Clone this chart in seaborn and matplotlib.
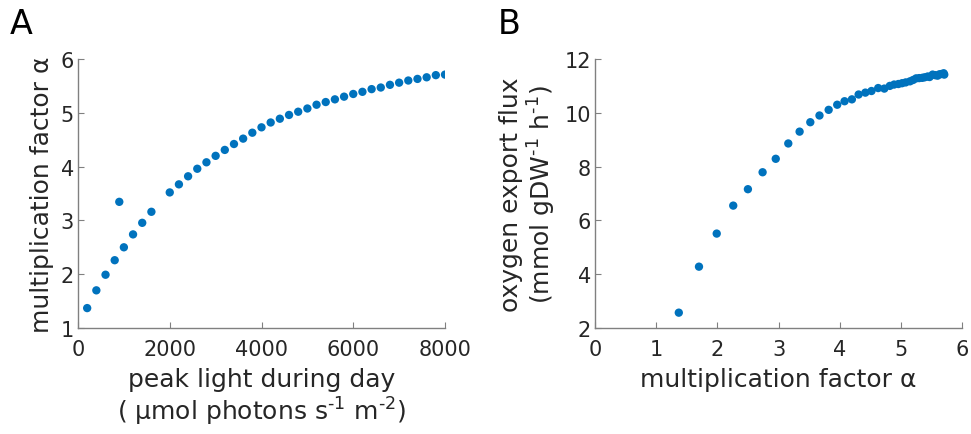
import numpy as np
import pandas as pd
import matplotlib
matplotlib.use("Agg")
import matplotlib.pyplot as plt
import seaborn as sns

# ---- data ----
peak_light = [200, 400, 600, 800, 900, 1000, 1200, 1400, 1600, 2000, 2200, 2400,
              2600, 2800, 3000, 3200, 3400, 3600, 3800, 4000, 4200, 4400, 4600,
              4800, 5000, 5200, 5400, 5600, 5800, 6000, 6200, 6400, 6600, 6800,
              7000, 7200, 7400, 7600, 7800, 8000]
alpha = [1.37, 1.70, 1.99, 2.26, 3.345, 2.50, 2.74, 2.955, 3.16, 3.52, 3.67, 3.82,
         3.96, 4.08, 4.20, 4.31, 4.42, 4.52, 4.63, 4.73, 4.82, 4.89, 4.96,
         5.02, 5.08, 5.15, 5.20, 5.25, 5.30, 5.35, 5.39, 5.44, 5.47, 5.52,
         5.56, 5.60, 5.63, 5.66, 5.70, 5.71]
alpha_b = [1.37, 1.70, 1.99, 2.26, 2.50, 2.74, 2.955, 3.16, 3.345, 3.52, 3.67, 3.82,
           3.96, 4.08, 4.20, 4.31, 4.42, 4.52, 4.63, 4.73, 4.82, 4.89, 4.96,
           5.02, 5.08, 5.15, 5.20, 5.25, 5.30, 5.35, 5.39, 5.44, 5.47, 5.52,
           5.56, 5.60, 5.63, 5.66, 5.70, 5.71]
oxygen_flux = [2.57, 4.28, 5.51, 6.55, 7.16, 7.79, 8.29, 8.86, 9.30, 9.65, 9.90, 10.11,
               10.30, 10.43, 10.50, 10.68, 10.75, 10.81, 10.92, 10.90, 11.00, 11.05, 11.07,
               11.10, 11.13, 11.17, 11.22, 11.28, 11.29, 11.30, 11.32, 11.35, 11.33, 11.42,
               11.40, 11.38, 11.43, 11.44, 11.47, 11.42]
xticks_a = [0, 2000, 4000, 6000, 8000]
yticks_a = [1, 2, 3, 4, 5, 6]
xticks_b = [0, 1, 2, 3, 4, 5, 6]
yticks_b = [2, 4, 6, 8, 10, 12]

df_a = pd.DataFrame({"light": peak_light, "alpha": alpha})
df_b = pd.DataFrame({"alpha": alpha_b, "flux": oxygen_flux})

sns.set_theme(style="white")
plt.rcParams['font.family'] = ['DejaVu Sans']
plt.rcParams['mathtext.default'] = 'regular'

BLUE = "#0072BD"
TXT = "#262626"
SPINE = "#808080"
FS = 15
LFS = 18

fig = plt.figure(figsize=(9.71, 4.35), dpi=100)
W, H = 971, 435
axA = fig.add_axes([78 / W, 1 - 329 / H, 367 / W, 269 / H])
axB = fig.add_axes([595 / W, 1 - 329 / H, 367 / W, 269 / H])

sns.scatterplot(data=df_a, x="light", y="alpha", ax=axA, color=BLUE, s=36,
                edgecolor="none", linewidth=0)
sns.scatterplot(data=df_b, x="alpha", y="flux", ax=axB, color=BLUE, s=36,
                edgecolor="none", linewidth=0)

def style(ax, xt, yt, xlim, ylim):
    ax.set_xlim(*xlim)
    ax.set_ylim(*ylim)
    ax.set_xticks(xt)
    ax.set_yticks(yt)
    for s in ["top", "right"]:
        ax.spines[s].set_visible(False)
    for s in ["left", "bottom"]:
        ax.spines[s].set_color(SPINE)
        ax.spines[s].set_linewidth(1.0)
    ax.tick_params(direction="in", length=4, width=0.8, color=SPINE,
                   labelsize=FS, labelcolor=TXT, bottom=True, left=True)
    ax.tick_params(axis="x", pad=8)
    ax.tick_params(axis="y", pad=3)
    ax.patch.set_alpha(0)

style(axA, xticks_a, yticks_a, (0, 8000), (1, 6))
style(axB, xticks_b, yticks_b, (0, 6), (2, 12))

axA.set_xlabel("peak light during day\n( \u00b5mol photons s$^{\\text{-1}}$ m$^{\\text{-2}}$)",
               fontsize=LFS, color=TXT, labelpad=5.5, linespacing=1.15)
axA.set_ylabel("multiplication factor \u03b1", fontsize=LFS, color=TXT, labelpad=5)
axB.set_xlabel("multiplication factor \u03b1", fontsize=LFS, color=TXT, labelpad=5.5)
axB.set_ylabel("oxygen export flux\n(mmol gDW$^{\\text{-1}}$ h$^{\\text{-1}}$)", fontsize=LFS,
               color=TXT, labelpad=4.5, linespacing=1.1)

fig.text(10 / W, 1 - 24 / H, "A", fontsize=24, color="black", va="center", ha="left")
fig.text(498 / W, 1 - 24 / H, "B", fontsize=24, color="black", va="center", ha="left")

fig.savefig("out.png", dpi=100)
